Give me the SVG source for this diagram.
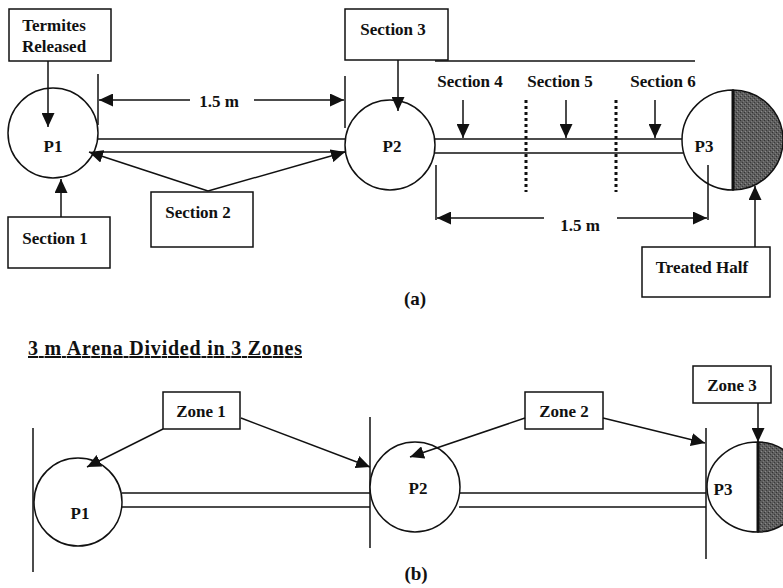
<svg xmlns="http://www.w3.org/2000/svg" width="783" height="588" viewBox="0 0 783 588">
  <style>
    .box { fill: #fff; stroke: #111; stroke-width: 1.5; }
    .ln { fill: none; stroke: #111; stroke-width: 1.5; }
    .arr { fill: none; stroke: #111; stroke-width: 1.5; marker-end: url(#ah); }
    .dot { fill: none; stroke: #111; stroke-width: 3; stroke-dasharray: 3 3; }
    .pool { fill: #fff; stroke: #111; stroke-width: 1.5; }
    .shade { fill: url(#stipple); stroke: #111; stroke-width: 1.5; }
    .t { font-family: 'Liberation Serif', 'DejaVu Serif', 'Times New Roman', serif; font-size: 17px; fill: #111; text-anchor: middle; font-weight: bold; }
    .cap { font-size: 19px; }
    .title { font-size: 20px; text-anchor: start; text-decoration: underline; }
  </style>
  <defs>
    <marker id="ah" markerUnits="userSpaceOnUse" markerWidth="15" markerHeight="13" refX="14" refY="6.5" orient="auto">
      <path d="M0,0 L14,6.5 L0,13 z" fill="#111"/>
    </marker>
    <pattern id="stipple" width="4" height="4" patternUnits="userSpaceOnUse">
      <rect width="4" height="4" fill="#5e5e5e"/>
      <rect x="0" y="0" width="1" height="1" fill="#333"/>
      <rect x="2" y="2" width="1" height="1" fill="#3a3a3a"/>
      <rect x="1" y="3" width="1" height="1" fill="#8a8a8a"/>
      <rect x="3" y="1" width="1" height="1" fill="#7a7a7a"/>
    </pattern>
  </defs>
  <rect width="783" height="588" fill="#fff"/>

  <!-- ===== (a) three-pool arena with sections ===== -->
  <g id="a-channels">
    <line class="ln" x1="98" y1="139" x2="346" y2="139"/>
    <line class="ln" x1="434" y1="139" x2="683" y2="139"/>
    <line class="ln" x1="434" y1="153" x2="683" y2="153"/>
    <line class="ln" x1="435" y1="61" x2="695" y2="61"/>
    <line class="dot" x1="526" y1="100" x2="526" y2="192"/>
    <line class="dot" x1="616" y1="100" x2="616" y2="192"/>
  </g>

  <g id="a-p1">
    <circle class="pool" cx="53" cy="133" r="45"/>
    <text x="53" y="152" class="t">P1</text>
  </g>
  <g id="a-p2">
    <circle class="pool" cx="390" cy="145" r="45"/>
    <text x="392" y="152" class="t">P2</text>
  </g>
  <g id="a-p3">
    <path class="pool" d="M733,90 A51,50 0 0 0 733,190 Z"/>
    <path class="shade" d="M733,90 A50,50 0 0 1 733,190 Z"/>
    <line x1="733" y1="90" x2="733" y2="190" stroke="#111" stroke-width="3"/>
    <text x="704" y="152" class="t">P3</text>
  </g>

  <g id="a-termites">
    <rect class="box" x="9" y="9" width="102" height="52"/>
    <text x="54" y="31" class="t">Termites</text>
    <text x="54" y="52" class="t">Released</text>
  </g>
  <g id="a-section1">
    <rect class="box" x="8" y="217" width="102" height="51"/>
    <text x="55" y="244" class="t">Section 1</text>
  </g>
  <g id="a-section2">
    <rect class="box" x="151" y="192" width="102" height="55"/>
    <text x="198" y="218" class="t">Section 2</text>
  </g>
  <g id="a-section3">
    <rect class="box" x="345" y="9" width="103" height="51"/>
    <text x="393" y="35" class="t">Section 3</text>
  </g>
  <g id="a-section4"><text x="470" y="87" class="t">Section 4</text></g>
  <g id="a-section5"><text x="560" y="87" class="t">Section 5</text></g>
  <g id="a-section6"><text x="663" y="87" class="t">Section 6</text></g>
  <g id="a-treated">
    <rect class="box" x="642" y="247" width="128" height="50"/>
    <text x="702" y="273" class="t">Treated Half</text>
  </g>

  <g id="a-dimensions">
    <line class="ln" x1="98" y1="74" x2="98" y2="125"/>
    <line class="ln" x1="345" y1="76" x2="345" y2="128"/>
    <line class="arr" x1="190" y1="100" x2="99" y2="100"/>
    <line class="arr" x1="254" y1="100" x2="344" y2="100"/>
    <text x="219" y="107" class="t">1.5 m</text>
    <line class="ln" x1="436" y1="165" x2="436" y2="220"/>
    <line class="ln" x1="708" y1="165" x2="708" y2="220"/>
    <line class="arr" x1="544" y1="218" x2="437" y2="218"/>
    <line class="arr" x1="617" y1="218" x2="707" y2="218"/>
    <text x="580" y="231" class="t">1.5 m</text>
  </g>

  <g id="a-connectors">
    <line class="arr" x1="48" y1="61" x2="48" y2="127"/>
    <line class="arr" x1="61" y1="217" x2="61" y2="179"/>
    <line class="arr" x1="208" y1="191" x2="89" y2="152"/>
    <line class="arr" x1="208" y1="191" x2="345" y2="152"/>
    <line class="ln" x1="98" y1="152" x2="345" y2="152"/>
    <line class="arr" x1="398" y1="60" x2="398" y2="111"/>
    <line class="arr" x1="463" y1="100" x2="463" y2="138"/>
    <line class="arr" x1="566" y1="100" x2="566" y2="138"/>
    <line class="arr" x1="655" y1="100" x2="655" y2="138"/>
    <line class="arr" x1="755" y1="247" x2="755" y2="186"/>
  </g>

  <text x="415" y="305" class="t cap">(a)</text>

  <!-- ===== (b) arena divided into zones ===== -->
  <text x="28" y="355" class="t title" textLength="274" lengthAdjust="spacing">3 m Arena Divided in 3 Zones</text>

  <g id="b-channels">
    <line class="ln" x1="122" y1="493" x2="370" y2="493"/>
    <line class="ln" x1="122" y1="507" x2="370" y2="507"/>
    <line class="ln" x1="459" y1="493" x2="706" y2="493"/>
    <line class="ln" x1="459" y1="507" x2="706" y2="507"/>
    <line class="ln" x1="33" y1="428" x2="33" y2="572"/>
    <line class="ln" x1="370" y1="417" x2="370" y2="548"/>
    <line class="ln" x1="706" y1="428" x2="706" y2="559"/>
  </g>

  <g id="b-p1">
    <circle class="pool" cx="78" cy="502" r="44"/>
    <text x="80" y="519" class="t">P1</text>
  </g>
  <g id="b-p2">
    <circle class="pool" cx="415" cy="487" r="45"/>
    <text x="418" y="494" class="t">P2</text>
  </g>
  <g id="b-p3">
    <path class="pool" d="M758,442 A51,45 0 0 0 758,532 Z"/>
    <path class="shade" d="M758,442 A45,45 0 0 1 758,532 Z"/>
    <line x1="758" y1="442" x2="758" y2="532" stroke="#111" stroke-width="3"/>
    <text x="723" y="495" class="t">P3</text>
  </g>

  <g id="b-zone1">
    <rect class="box" x="163" y="392" width="77" height="37"/>
    <text x="201" y="417" class="t">Zone 1</text>
  </g>
  <g id="b-zone2">
    <rect class="box" x="525" y="392" width="78" height="37"/>
    <text x="564" y="417" class="t">Zone 2</text>
  </g>
  <g id="b-zone3">
    <rect class="box" x="693" y="366" width="78" height="37"/>
    <text x="732" y="391" class="t">Zone 3</text>
  </g>

  <g id="b-connectors">
    <line class="arr" x1="163" y1="429" x2="87" y2="467"/>
    <line class="arr" x1="241" y1="418" x2="370" y2="467"/>
    <line class="arr" x1="525" y1="418" x2="410" y2="457"/>
    <line class="arr" x1="603" y1="418" x2="705" y2="443"/>
    <line class="arr" x1="758" y1="403" x2="758" y2="442"/>
  </g>

  <text x="416" y="580" class="t cap">(b)</text>
</svg>
